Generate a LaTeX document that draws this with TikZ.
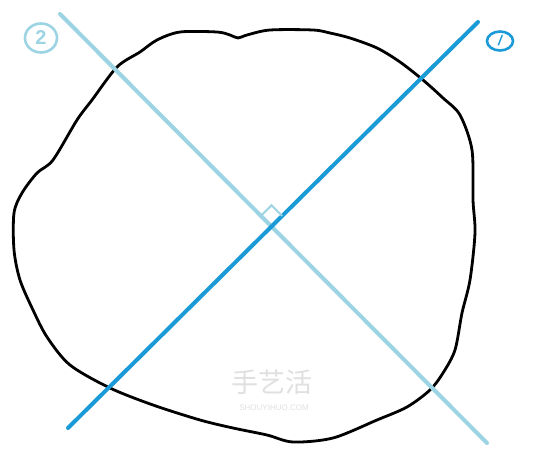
\documentclass[tikz,border=0pt]{standalone}
\usepackage{fontspec}
\setmainfont{Liberation Sans}
\newfontfamily\cjk{Noto Sans CJK SC}
\usetikzlibrary{shapes.geometric,calc}
\definecolor{lineA}{HTML}{1A9AD6}
\definecolor{lineB}{HTML}{9DD4E4}
\definecolor{wmark}{HTML}{E0E0E0}
\tikzset{
  outline/.style={draw=black, line width=2.8pt, line join=round},
  axisA/.style={draw=lineA, line width=4pt, line cap=round},
  axisB/.style={draw=lineB, line width=4pt, line cap=round},
  tag/.style={ellipse, line width=2.6pt, inner sep=0pt, font=\bfseries\fontsize{20}{20}\selectfont},
}
\begin{document}
\begin{tikzpicture}[x=1pt,y=-1pt]
\useasboundingbox (0,0) rectangle (550,449);
\fill[white] (0,0) rectangle (550,449);
% blob outline
\draw[outline] plot[smooth cycle, tension=0.5] coordinates {
(77,120) (92,100) (117,67) (140,52) (157,40) (180,32) (217,32) (230,35)
(238,38) (247,35) (270,30) (313,30) (330,33) (350,38) (377,48) (400,62)
(423,80) (443,98) (460,115) (472,150) (473,200) (475,233) (470,280)
(462,313) (455,350) (443,373) (430,390) (407,407) (377,420) (333,438)
(293,442) (267,435) (233,428) (200,420) (153,405) (110,388) (70,365)
(47,337) (33,310) (20,280) (14,250) (14,213) (22,193) (37,173) (53,160)};
% watermark
\node[text=wmark, font=\cjk\fontsize{27}{27}\selectfont] (wm) at (272,382) {手艺活};
\node[text=wmark, font=\fontsize{8}{8}\selectfont] (wmurl) at (274,408) {SHOUYIHUO.COM};
% axes
\coordinate (b1) at (60,14);
\coordinate (b2) at (487,443);
\coordinate (a1) at (68,428);
\coordinate (a2) at (478,22);
\draw[axisB] (b1) -- (b2);
\draw[axisA] (a1) -- (a2);
% right-angle mark
\coordinate (o) at (intersection of a1--a2 and b1--b2);
\coordinate (pb) at ($(o)!15pt!(b1)$);
\coordinate (pa) at ($(o)!15pt!(a2)$);
\coordinate (pc) at ($(pa)+(pb)-(o)$);
\draw[lineB, line width=2pt] (pb) -- (pc) -- (pa);
% labels
\node[tag, draw=lineB, text=lineB, minimum width=32pt, minimum height=29pt] (t2) at (41,38) {2};
\node[tag, draw=lineA, text=lineA, minimum width=26pt, minimum height=19pt] (t1) at (500,41) {\itshape\fontsize{14}{14}\selectfont /};
\end{tikzpicture}
\end{document}
